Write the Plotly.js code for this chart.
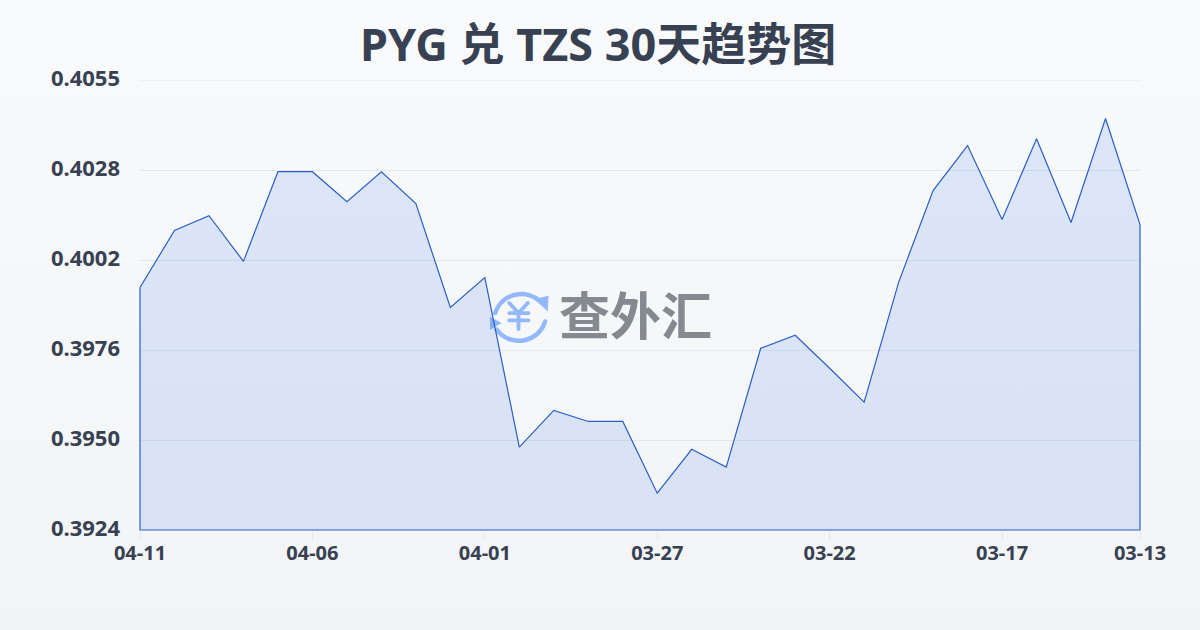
<!DOCTYPE html>
<html><head><meta charset="utf-8">
<script src="https://cdn.plot.ly/plotly-3.0.1.min.js"></script>
<style>html,body{margin:0;padding:0;width:1200px;height:630px;overflow:hidden;background:linear-gradient(180deg,#f9fafc 0%,#f3f4f6 100%);}#c{width:1200px;height:630px;}</style>
</head><body><div id="c"></div>
<script>
const dates=["04-11","04-10","04-09","04-08","04-07","04-06","04-05","04-04","04-03","04-02","04-01","03-31","03-30","03-29","03-28","03-27","03-26","03-25","03-24","03-23","03-22","03-21","03-20","03-19","03-18","03-17","03-16","03-15","03-14","03-13"];
const rates=[0.39946,0.40112,0.40155,0.40022,0.40283,0.40283,0.40196,0.40283,0.40190,0.39888,0.39975,0.39481,0.39588,0.39556,0.39556,0.39347,0.39475,0.39423,0.39769,0.39807,0.39711,0.39612,0.39961,0.40228,0.40359,0.40144,0.40379,0.40135,0.40438,0.40129];
const yTicks=[0.3924,0.39502,0.39764,0.40026,0.40288,0.4055];
const yLabels=["0.3924","0.3950","0.3976","0.4002","0.4028","0.4055"];
const xTicks=["04-11","04-06","04-01","03-27","03-22","03-17","03-13"];
const titleText="PYG 兑 TZS 30天趋势图";
const watermark="查外汇";
const ink="#374151";
const fontFam='"Noto Sans","Noto Sans CJK SC",sans-serif';
const base=yTicks[0];
const top_=yTicks[yTicks.length-1];
const logo='<svg xmlns="http://www.w3.org/2000/svg" width="60" height="60" viewBox="0 0 60 60"><g fill="none" stroke="#93b8fb" stroke-linecap="round"><path stroke-width="4.5" d="M5.7 28.3 A27.5 27.5 0 0 1 50.7 16.7"/><path stroke-width="4.5" d="M55.7 36.7 A27.5 27.5 0 0 1 7.3 45"/><path stroke-width="3.8" d="M19.7 18.3 L29 28.3 L38.3 18.3 M29 28.3 V44.3 M19.7 28.3 H39 M19.7 35.7 H39"/></g><path d="M44.7 14.3 L59 11 L58.3 26.7 Z M12.3 38.3 L0 31.7 L0.7 45 Z" fill="#93b8fb"/></svg>';
const W=1002, H=451.5;
Plotly.newPlot("c",[{
  type:"scatter",mode:"lines",
  x:[...dates,dates[dates.length-1],dates[0],dates[0]],
  y:[...rates,base,base,rates[0]],
  fill:"toself",fillcolor:"rgba(37,99,235,0.13)",
  line:{color:"#2a5fc6",width:1.2,shape:"linear"},hoverinfo:"skip"
}],{
  width:1200,height:630,showlegend:false,
  paper_bgcolor:"rgba(0,0,0,0)",plot_bgcolor:"rgba(0,0,0,0)",
  margin:{l:139,r:59,t:80,b:98.5},
  title:{text:titleText,x:0.4985,xanchor:"center",y:0.928,yanchor:"middle",font:{family:fontFam,size:45,color:ink,weight:700}},
  xaxis:{type:"category",categoryorder:"array",categoryarray:dates,range:[-0.029,29.029],tickmode:"array",tickvals:xTicks,ticktext:xTicks,
    showgrid:false,zeroline:false,showline:false,ticks:"outside",ticklen:8,tickwidth:1,tickcolor:"#e5e7eb",ticklabelstandoff:-4,
    tickfont:{family:fontFam,size:20,color:ink,weight:700},tickangle:0},
  yaxis:{range:[base-0.0000291,top_],tickmode:"array",tickvals:yTicks,ticktext:yLabels,showgrid:true,gridcolor:"#e5e7eb",gridwidth:1,zeroline:false,showline:false,
    ticks:"",ticklen:0,ticklabelstandoff:18,ticklabelshift:-2,tickfont:{family:fontFam,size:22,color:ink,weight:700}},
  shapes:[{type:"line",xref:"paper",yref:"y",x0:0,x1:1,y0:top_,y1:top_,line:{color:"#e5e7eb",width:1},layer:"below"}],
  images:[{source:"data:image/svg+xml;utf8,"+encodeURIComponent(logo),xref:"paper",yref:"paper",xanchor:"left",yanchor:"top",x:(489.5-139)/W,y:(531.5-285)/H,sizex:60/W,sizey:60/H,sizing:"stretch",layer:"below"}],
  annotations:[{text:watermark,xref:"paper",yref:"paper",x:(635-139)/W,y:(531.5-315)/H,xanchor:"center",yanchor:"middle",showarrow:false,font:{family:fontFam,size:51,color:"#858990",weight:700}}]
},{displayModeBar:false,staticPlot:true});
</script></body></html>
